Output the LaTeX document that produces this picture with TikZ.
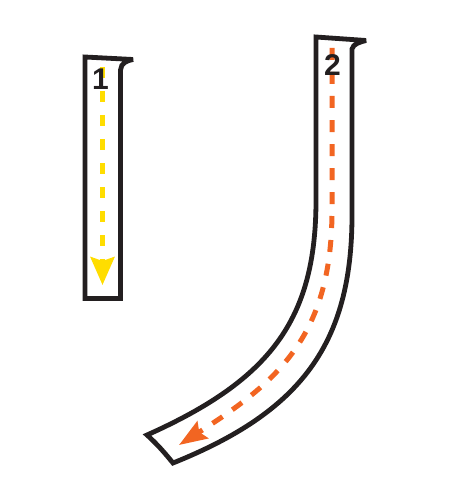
\documentclass[tikz,border=0pt]{standalone}
\usepackage{fontspec}
\setmainfont{Liberation Sans}
\usetikzlibrary{arrows.meta}
\definecolor{tubeblack}{RGB}{35,31,32}
\definecolor{flowyellow}{RGB}{255,221,0}
\definecolor{floworange}{RGB}{242,101,34}
\tikzset{
  tube/.style={draw=tubeblack, line width=4.8pt, line join=miter, miter limit=2, fill=white},
  flowone/.style={draw=flowyellow, line width=4.5pt, dash pattern=on 11pt off 13pt,
    -{Stealth[length=28pt,width=24pt,inset=4pt,fill=flowyellow]}},
  flowtwo/.style={draw=floworange, line width=5pt, dash pattern=on 12pt off 12pt,
    -{Stealth[length=28pt,width=20pt,inset=4pt,fill=floworange]}},
  numlabel/.style={font=\bfseries\fontsize{30}{30}\selectfont, text=tubeblack, inner sep=0pt}
}
\begin{document}
\begin{tikzpicture}[x=1pt,y=-1pt]
\useasboundingbox (0,0) rectangle (450,500);
% tube 1
\path[tube] (85,57) -- (85,298.5) -- (120.5,298.5) -- (120.5,70)
  .. controls (121,63) and (127,60.5) .. (133,59.5) -- cycle;
% tube 2
\path[tube] (316,37) -- (316,200) .. controls (316,320) and (270,380) .. (147,435)
  .. controls (157,444) and (164,452) .. (173,463)
  .. controls (300,412) and (352,345) .. (352,215) -- (352,49)
  .. controls (353,44) and (360,42) .. (366,40.5) -- cycle;
% flows
\coordinate (y1) at (102.5,67);
\coordinate (y2) at (102.5,285);
\draw[flowone] (y1) -- (y2);
\coordinate (o1) at (332,48);
\coordinate (o2) at (332,210);
\coordinate (o3) at (179,445);
\draw[flowtwo] (o1) -- (o2) .. controls (332,335) and (279,381) .. (o3);
% labels
\node[numlabel] (n1) at (100.5,79) {1};
\node[numlabel] (n2) at (332.5,65) {2};
\end{tikzpicture}
\end{document}
